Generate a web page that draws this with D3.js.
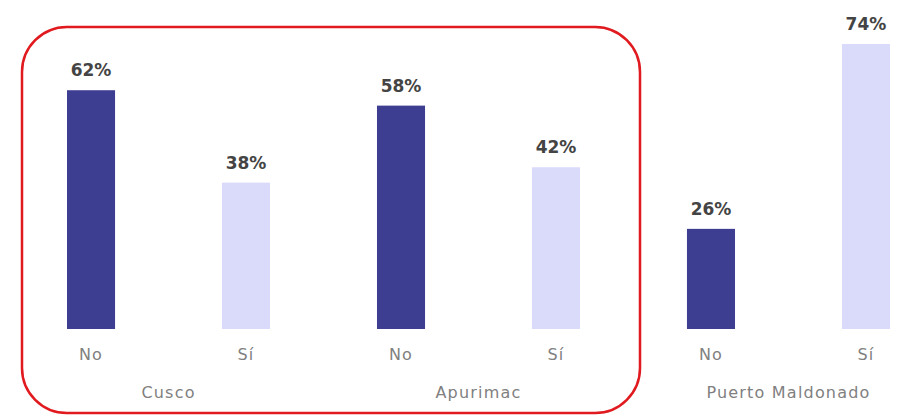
<!DOCTYPE html>
<html lang="es">
<head>
    <meta charset="UTF-8">
    <title>No / Sí por región</title>
    <script src="https://d3js.org/d3.v7.min.js"></script>
    <style>
        body { margin: 0; background: #fff; }
        svg { display: block; font-family: "DejaVu Sans", Arial, sans-serif; }
        .pct { font-weight: 700; font-size: 17px; fill: #444; }
        .cat { font-size: 16px; fill: #808080; letter-spacing: 1.2px; }
    </style>
</head>
<body>
    <svg id="chart"></svg>
    <script>
        // datos
        const regions = ["Cusco", "Apurimac", "Puerto Maldonado"];
        const answers = ["No", "Sí"];
        const noValues = [62, 58, 26];
        const siValues = [38, 42, 74];

        const width = 897, height = 416;
        const colors = { "No": "#3d3d92", "Sí": "#dadafb" };

        const rows = [];
        regions.forEach((r, i) => {
            rows.push({ region: r, answer: "No", value: noValues[i] });
            rows.push({ region: r, answer: "Sí", value: siValues[i] });
        });

        const svg = d3.select("#chart").attr("width", width).attr("height", height);

        const x = d3.scaleBand()
            .domain(rows.map(d => d.region + "|" + d.answer))
            .range([67, 890])
            .paddingInner(0.69)
            .paddingOuter(0);

        const y = d3.scaleLinear().domain([0, 74]).range([329, 44]);

        // recuadro rojo alrededor de Cusco y Apurimac
        svg.append("rect")
            .attr("x", 22).attr("y", 27)
            .attr("width", 618).attr("height", 386)
            .attr("rx", 45).attr("ry", 45)
            .attr("fill", "none")
            .attr("stroke", "#e01a1f")
            .attr("stroke-width", 2.5);

        const key = d => d.region + "|" + d.answer;

        svg.selectAll(".bar")
            .data(rows)
            .enter()
            .append("rect")
            .attr("class", "bar")
            .attr("x", d => x(key(d)))
            .attr("y", d => y(d.value))
            .attr("width", x.bandwidth())
            .attr("height", d => y(0) - y(d.value))
            .attr("fill", d => colors[d.answer]);

        svg.selectAll(".pct")
            .data(rows)
            .enter()
            .append("text")
            .attr("class", "pct")
            .attr("text-anchor", "middle")
            .attr("x", d => x(key(d)) + x.bandwidth() / 2)
            .attr("y", d => y(d.value) - 14)
            .text(d => d.value + "%");

        svg.selectAll(".ans")
            .data(rows)
            .enter()
            .append("text")
            .attr("class", "cat")
            .attr("text-anchor", "middle")
            .attr("x", d => x(key(d)) + x.bandwidth() / 2)
            .attr("y", 360)
            .text(d => d.answer);

        svg.selectAll(".reg")
            .data(regions)
            .enter()
            .append("text")
            .attr("class", "cat")
            .attr("text-anchor", "middle")
            .attr("x", r => (x(r + "|No") + x(r + "|Sí") + x.bandwidth()) / 2)
            .attr("y", 398)
            .text(r => r);
    </script>
</body>
</html>
